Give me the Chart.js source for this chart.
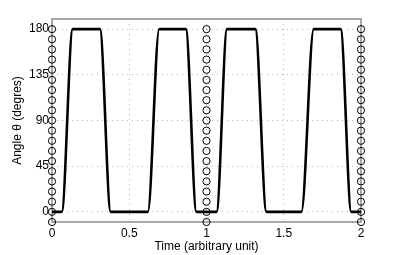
<!DOCTYPE html>
<html>
<head>
<meta charset="utf-8">
<script src="https://cdn.jsdelivr.net/npm/chart.js@4"></script>
<style>
  html, body { margin: 0; padding: 0; background: #fff; }
  #wrap { width: 399px; height: 255px; }
</style>
</head>
<body>
<div id="wrap"><canvas id="angle-chart" width="399" height="255"></canvas></div>
<script>
// trapezoid angle signal
const times = [0, 0.063, 0.134, 0.31, 0.38, 0.62, 0.694, 0.866, 0.935,
               1.065, 1.133, 1.316, 1.388, 1.614, 1.694, 1.868, 1.937, 2];
const angles = [0, 0, 180, 180, 0, 0, 180, 180, 0,
                0, 180, 180, 0, 0, 180, 180, 0, 0];

// circle markers
const markerTimes = [0, 1, 2];
const markerAngles = [-10, 0, 10, 20, 30, 40, 50, 60, 70, 80, 90,
                      100, 110, 120, 130, 140, 150, 160, 170, 180];

const xTicks = [0, 0.5, 1, 1.5, 2];
const xTickLabels = ['0', '0.5', '1', '1.5', '2'];
const yTicks = [0, 45, 90, 135, 180];

const signal = times.map((t, i) => ({ x: t, y: angles[i] }));
const markers = [];
markerTimes.forEach(t => markerAngles.forEach(a => markers.push({ x: t, y: a })));

const font = { family: '"Liberation Sans", Arial, sans-serif', size: 12 };

const boxPlugin = {
    id: 'box',
    beforeDatasetsDraw(chart) {
        const a = chart.chartArea;
        const c = chart.ctx;
        c.save();
        c.strokeStyle = '#8a8a8a';
        c.lineWidth = 1.5;
        c.strokeRect(a.left, a.top, a.right - a.left, a.bottom - a.top);
        c.restore();
    }
};

const gridColor = ctx => (ctx.index === 0 || ctx.index === ctx.scale.ticks.length - 1)
    ? 'rgba(0,0,0,0)' : '#b4b4b4';

const Ctx = document.getElementById('angle-chart').getContext('2d');
const chart = new Chart(Ctx, {
    type: 'scatter',
    data: {
        datasets: [{
            data: signal,
            showLine: true,
            borderColor: '#000',
            borderWidth: 2.6,
            pointRadius: 0,
            cubicInterpolationMode: 'monotone',
            order: 1
        }, {
            data: markers,
            showLine: false,
            pointStyle: 'circle',
            pointRadius: 3.6,
            borderWidth: 1,
            borderColor: '#000',
            backgroundColor: 'rgba(0,0,0,0)',
            clip: false,
            order: 0
        }]
    },
    options: {
        responsive: false,
        animation: false,
        layout: { padding: { left: 0, right: 38, top: 19, bottom: 0 } },
        plugins: { legend: { display: false }, tooltip: { enabled: false } },
        scales: {
            x: {
                type: 'linear',
                min: 0,
                max: 2,
                afterBuildTicks: s => { s.ticks = xTicks.map(v => ({ value: v })); },
                afterFit: s => { s.height = 33; },
                grid: { color: gridColor, drawTicks: false, lineWidth: 1 },
                border: { display: false, dash: [1, 4] },
                ticks: { color: '#000', font: font, padding: 4, callback: (v, i) => xTickLabels[i] },
                title: { display: true, text: 'Time (arbitrary unit)', color: '#000', font: font, padding: { top: 0, bottom: 1 } }
            },
            y: {
                min: -10,
                max: 190,
                afterBuildTicks: s => { s.ticks = yTicks.map(v => ({ value: v })); },
                afterFit: s => { s.width = 52; },
                grid: { color: '#b4b4b4', drawTicks: false, lineWidth: 1 },
                border: { display: false, dash: [1, 4] },
                ticks: { color: '#000', font: font, padding: 3 },
                title: { display: true, text: 'Angle θ (degres)', color: '#000', font: font, padding: { top: 10, bottom: 0 } }
            }
        }
    },
    plugins: [boxPlugin]
});
</script>
</body>
</html>
